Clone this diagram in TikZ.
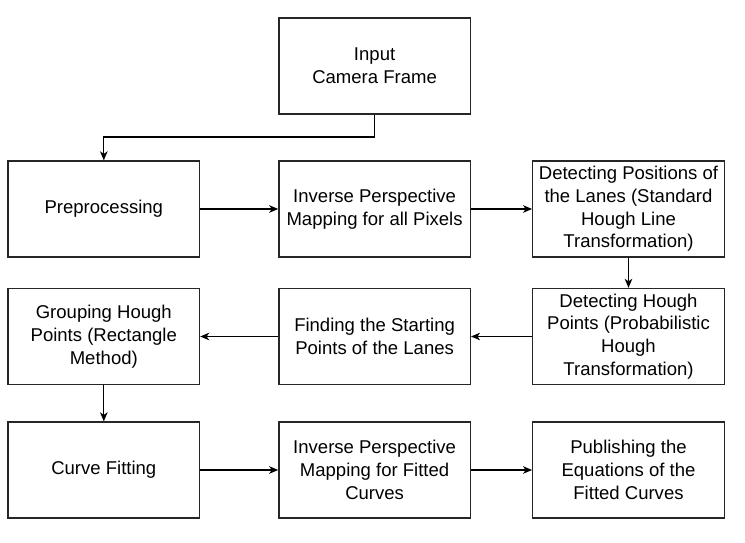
\documentclass[tikz,border=0pt]{standalone}
\usepackage{fontspec}
\setmainfont{Liberation Sans}
\usetikzlibrary{arrows.meta}
\begin{document}
\begin{tikzpicture}[x=1bp,y=-1bp,
  box/.style={draw=black!85,line width=1.3bp,minimum width=191.5bp,minimum height=96bp,
    inner sep=0pt,align=center,font=\fontsize{18.6}{22.8}\selectfont},
  arr/.style={line width=1.3bp,-{Stealth[length=9bp,width=7.5bp,inset=2.5bp]}}]
\useasboundingbox (0,0) rectangle (745,543);
\node[box] (inp) at (374.6,66) {Input\\Camera Frame};
\node[box] (pre) at (103.8,209) {Preprocessing};
\node[box] (ipm) at (374.6,209) {Inverse Perspective\\Mapping for all Pixels};
\node[box] (dpl) at (628.5,209) {Detecting Positions of\\the Lanes (Standard\\Hough Line\\Transformation)};
\node[box] (grp) at (103.8,336.5) {Grouping Hough\\Points (Rectangle\\Method)};
\node[box] (fsp) at (374.6,336.5) {Finding the Starting\\Points of the Lanes};
\node[box] (dhp) at (628.5,336.5) {Detecting Hough\\Points (Probabilistic\\Hough\\Transformation)};
\node[box] (cf) at (103.8,470) {Curve Fitting};
\node[box] (ipf) at (374.6,470) {Inverse Perspective\\Mapping for Fitted\\Curves};
\node[box] (pub) at (628.5,470) {Publishing the\\Equations of the\\Fitted Curves};
\coordinate (bend) at (374.6,137);
\draw[arr] (inp.south) -- (bend) -| (pre.north);
\draw[arr] (pre) -- (ipm);
\draw[arr] (ipm) -- (dpl);
\draw[arr] (dpl) -- (dhp);
\draw[arr] (dhp) -- (fsp);
\draw[arr] (fsp) -- (grp);
\draw[arr] (grp) -- (cf);
\draw[arr] (cf) -- (ipf);
\draw[arr] (ipf) -- (pub);
\end{tikzpicture}
\end{document}
